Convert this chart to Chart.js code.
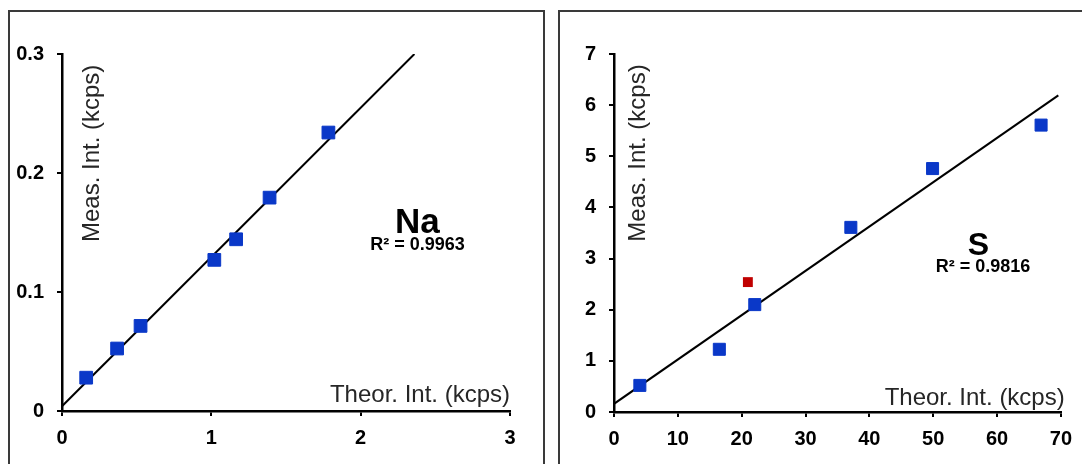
<!DOCTYPE html>
<html>
<head>
<meta charset="utf-8">
<script src="https://cdn.jsdelivr.net/npm/chart.js@4.4.1/dist/chart.umd.min.js"></script>
<style>
  html, body { margin: 0; padding: 0; background: #fff; width: 1082px; height: 464px; overflow: hidden; }
  .panel { position: absolute; border: 2px solid #3a3a3a; box-sizing: border-box; background: #fff; }
  #p1 { left: 8px; top: 10px; width: 537px; height: 470px; }
  #p2 { left: 558px; top: 10px; width: 540px; height: 470px; }
  canvas { position: absolute; }
  #c1 { left: 10px; top: 13px; }
  #c2 { left: 561px; top: 13px; }
</style>
</head>
<body>
<div class="panel" id="p1"></div>
<div class="panel" id="p2"></div>
<canvas id="c1" width="532" height="451" style="width:532px;height:451px"></canvas>
<canvas id="c2" width="521" height="451" style="width:521px;height:451px"></canvas>
<script>
// ---------- Na data ----------
const naTheor = [0.162, 0.369, 0.526, 1.02, 1.166, 1.39, 1.784];
const naMeas  = [0.028, 0.0525, 0.0715, 0.127, 0.1443, 0.1793, 0.234];
const naFitX  = [0, 2.36];
const naFitY  = [0.004, 0.3];
const naXTicks = [0, 1, 2, 3];
const naXLabels = ['0', '1', '2', '3'];
const naYTicks = [0, 0.1, 0.2, 0.3];
const naYLabels = ['0', '0.1', '0.2', '0.3'];
const naR2 = 'R² = 0.9963';

// ---------- S data ----------
const sTheor = [4.05, 16.5, 22.05, 37.1, 49.9, 66.9];
const sMeas  = [0.52, 1.226, 2.10, 3.61, 4.76, 5.61];
const sOutTheor = [20.97];
const sOutMeas  = [2.54];
const sFitX = [0, 69.6];
const sFitY = [0.16, 6.19];
const sXTicks = [0, 10, 20, 30, 40, 50, 60, 70];
const sXLabels = ['0', '10', '20', '30', '40', '50', '60', '70'];
const sYTicks = [0, 1, 2, 3, 4, 5, 6, 7];
const sYLabels = ['0', '1', '2', '3', '4', '5', '6', '7'];
const sR2 = 'R² = 0.9816';

const yTitle = 'Meas. Int. (kcps)';
const xTitle = 'Theor. Int. (kcps)';

const FONT = '"Liberation Sans", Arial, sans-serif';
const toPts = (xs, ys) => xs.map((x, i) => ({ x: x, y: ys[i] }));

function makeScale(min, max, values, labels, size, isX) {
  return {
    type: 'linear',
    min: min, max: max,
    afterBuildTicks: (scale) => { scale.ticks = values.map(v => ({ value: v })); },
    afterFit: (scale) => { if (isX) scale.height = size; else scale.width = size; },
    ticks: {
      autoSkip: false,
      maxRotation: 0,
      padding: isX ? 10 : 13,
      color: '#000',
      font: { family: FONT, size: 20, weight: 'bold' },
      callback: (v) => { const i = values.findIndex(t => Math.abs(t - v) < 1e-9); return i >= 0 ? labels[i] : ''; }
    },
    grid: { display: true, drawOnChartArea: false, drawTicks: true, tickLength: 5, color: '#000', lineWidth: 2 },
    border: { display: true, color: '#000', width: 2.5 }
  };
}

function textPlugin(cfg) {
  return {
    id: 'texts',
    afterDatasetsDraw(chart) {
      const ctx = chart.ctx;
      const xs = chart.scales.x, ys = chart.scales.y;
      ctx.save();
      ctx.fillStyle = '#262626';
      ctx.font = '24px ' + FONT;
      ctx.textBaseline = 'alphabetic';
      ctx.save();
      ctx.translate(xs.getPixelForValue(cfg.yTitleX), ys.getPixelForValue(cfg.yTitleY));
      ctx.rotate(-Math.PI / 2);
      ctx.textAlign = 'left';
      ctx.fillText(yTitle, 0, 0);
      ctx.restore();
      ctx.textAlign = 'right';
      ctx.fillText(xTitle, xs.getPixelForValue(cfg.xTitleX), ys.getPixelForValue(cfg.xTitleY));
      ctx.fillStyle = '#000';
      ctx.textAlign = 'center';
      ctx.font = 'bold ' + cfg.nameSize + 'px ' + FONT;
      ctx.fillText(cfg.name, xs.getPixelForValue(cfg.nameX), ys.getPixelForValue(cfg.nameY));
      ctx.font = 'bold 18px ' + FONT;
      ctx.fillText(cfg.r2, xs.getPixelForValue(cfg.r2X), ys.getPixelForValue(cfg.r2Y));
      ctx.restore();
    }
  };
}

function makeChart(id, datasets, xScale, yScale, pad, texts) {
  return new Chart(document.getElementById(id), {
    type: 'scatter',
    data: { datasets: datasets },
    options: {
      responsive: false,
      animation: false,
      layout: { padding: pad },
      plugins: { legend: { display: false }, tooltip: { enabled: false }, title: { display: false } },
      scales: { x: xScale, y: yScale }
    },
    plugins: [textPlugin(texts)]
  });
}

const BLUE = '#0a38c8';
const RED = '#c00000';

makeChart('c1', [
  { type: 'line', data: toPts(naFitX, naFitY), borderColor: '#000', borderWidth: 2, pointRadius: 0, fill: false, order: 2 },
  { data: toPts(naTheor, naMeas), pointStyle: 'rect', pointRadius: 9, backgroundColor: BLUE, borderColor: BLUE, borderWidth: 1, order: 1 }
],
  makeScale(0, 3, naXTicks, naXLabels, 53, true),
  makeScale(0, 0.3, naYTicks, naYLabels, 52, false),
  { left: 0, right: 32, top: 41, bottom: 0 },
  { yTitleX: 0.245, yTitleY: 0.142, xTitleX: 3.0, xTitleY: 0.0075,
    name: 'Na', nameSize: 35, nameX: 2.38, nameY: 0.150, r2: naR2, r2X: 2.38, r2Y: 0.135 }
);

makeChart('c2', [
  { type: 'line', data: toPts(sFitX, sFitY), borderColor: '#000', borderWidth: 2, pointRadius: 0, fill: false, order: 3 },
  { data: toPts(sTheor, sMeas), pointStyle: 'rect', pointRadius: 8.5, backgroundColor: BLUE, borderColor: BLUE, borderWidth: 1, order: 1 },
  { data: toPts(sOutTheor, sOutMeas), pointStyle: 'rect', pointRadius: 7, backgroundColor: RED, borderColor: RED, borderWidth: 0, order: 2 }
],
  makeScale(0, 70, sXTicks, sXLabels, 52, true),
  makeScale(0, 7, sYTicks, sYLabels, 53, false),
  { left: 0, right: 21, top: 41, bottom: 0 },
  { yTitleX: 4.9, yTitleY: 3.33, xTitleX: 70.6, xTitleY: 0.14,
    name: 'S', nameSize: 32, nameX: 57.1, nameY: 3.07, r2: sR2, r2X: 57.8, r2Y: 2.74 }
);
</script>
</body>
</html>
